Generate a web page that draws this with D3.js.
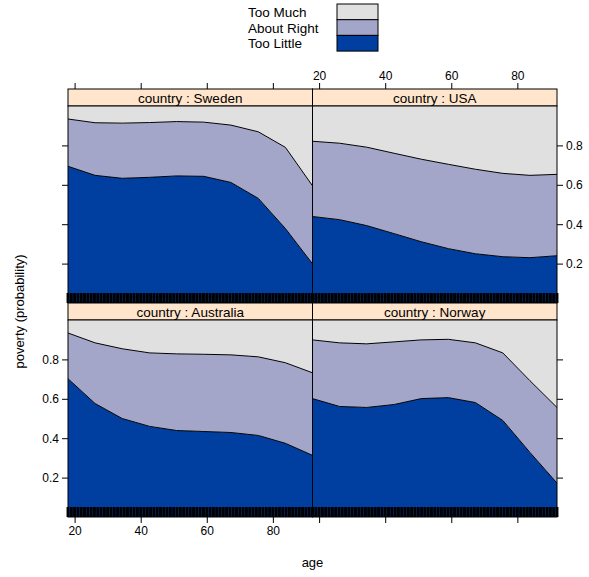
<!DOCTYPE html>
<meta charset="utf-8">
<style>
body { margin: 0; background: #fff; }
text { font-family: "Liberation Sans", Arial, sans-serif; fill: #000; }
.tick line, .domain { stroke: #000; }
</style>
<body>
<script src="https://d3js.org/d3.v7.min.js"></script>
<script>

// ---- data: fitted probabilities at the age evaluation points ----
var ages = [18, 26.2, 34.4, 42.7, 50.9, 59.1, 67.3, 75.6, 83.8, 92];
var categories = ["Too Little", "About Right", "Too Much"];

var swedenTooLittle   = [0.694, 0.648, 0.633, 0.638, 0.645, 0.643, 0.612, 0.531, 0.378, 0.199];
var swedenAboutRight  = [0.240, 0.267, 0.280, 0.278, 0.276, 0.275, 0.291, 0.338, 0.412, 0.396];
var usaTooLittle      = [0.439, 0.423, 0.393, 0.352, 0.311, 0.276, 0.250, 0.235, 0.230, 0.240];
var usaAboutRight     = [0.382, 0.388, 0.398, 0.408, 0.419, 0.428, 0.429, 0.423, 0.418, 0.413];
var australiaTooLittle  = [0.702, 0.576, 0.500, 0.460, 0.439, 0.434, 0.429, 0.414, 0.374, 0.313];
var australiaAboutRight = [0.232, 0.308, 0.354, 0.373, 0.389, 0.392, 0.394, 0.399, 0.409, 0.419];
var norwayTooLittle   = [0.601, 0.561, 0.556, 0.571, 0.601, 0.606, 0.581, 0.490, 0.328, 0.172];
var norwayAboutRight  = [0.298, 0.323, 0.323, 0.318, 0.298, 0.296, 0.303, 0.343, 0.364, 0.384];

// ages present in the data (rug)
var rugAges = [18,19,20,21,22,23,24,25,26,27,28,29,30,31,32,33,34,35,36,37,38,39,40,41,42,43,44,45,46,47,48,49,
  50,51,52,53,54,55,56,57,58,59,60,61,62,63,64,65,66,67,68,69,70,71,72,73,74,75,76,77,78,79,80,81,82,83,84,85,86,87,88,89,90,91,92];

var xTicks = [20, 40, 60, 80];
var yTicks = [0.2, 0.4, 0.6, 0.8];

var colors = {"Too Little": "#003fa0", "About Right": "#a3a6c8", "Too Much": "#e0e0e0"};

// panels: position in lattice layout (col,row)
var panels = [
  {name: "Sweden",    col: 0, row: 0, tl: swedenTooLittle,    ar: swedenAboutRight},
  {name: "USA",       col: 1, row: 0, tl: usaTooLittle,       ar: usaAboutRight},
  {name: "Australia", col: 0, row: 1, tl: australiaTooLittle, ar: australiaAboutRight},
  {name: "Norway",    col: 1, row: 1, tl: norwayTooLittle,    ar: norwayAboutRight}
];

// ---- layout ----
var W = 589, H = 577;
var plotLeft = 68, plotTop = 89, pw = 244.5, ph = 197, stripH = 17;

var svg = d3.select("body").append("svg")
    .attr("width", W)
    .attr("height", H);

var x = d3.scaleLinear().domain([18, 92]).range([0, pw]);
var y = d3.scaleLinear().domain([0, 1]).range([ph, 0]);

var stack = d3.stack().keys(categories);

var area = d3.area()
    .x(function(d) { return x(d.data.age); })
    .y0(function(d) { return y(d[0]); })
    .y1(function(d) { return y(d[1]); });

var line = d3.line()
    .x(function(d) { return x(d.data.age); })
    .y(function(d) { return y(d[1]); });

panels.forEach(function(p) {
  var px = plotLeft + p.col * pw;
  var py = plotTop + p.row * (ph + stripH);

  var rows = ages.map(function(a, i) {
    return {age: a, "Too Little": p.tl[i], "About Right": p.ar[i], "Too Much": 1 - p.tl[i] - p.ar[i]};
  });
  var series = stack(rows);

  // strip
  svg.append("rect")
      .attr("x", px).attr("y", py)
      .attr("width", pw).attr("height", stripH)
      .attr("fill", "#ffe5cc")
      .attr("stroke", "#000").attr("stroke-width", 1);
  svg.append("text")
      .attr("x", px + pw / 2).attr("y", py + stripH / 2 + 5)
      .attr("text-anchor", "middle")
      .style("font-size", "13.5px")
      .text("country : " + p.name);

  var g = svg.append("g")
      .attr("transform", "translate(" + px + "," + (py + stripH) + ")");

  g.selectAll("path.area")
    .data(series)
    .enter().append("path")
      .attr("class", "area")
      .attr("fill", function(d) { return colors[d.key]; })
      .attr("d", area);

  // boundary lines between categories
  g.selectAll("path.bound")
    .data(series.slice(0, 2))
    .enter().append("path")
      .attr("class", "bound")
      .attr("fill", "none")
      .attr("stroke", "#000")
      .attr("stroke-width", 1)
      .attr("d", line);

  // rug
  g.selectAll("line.rug")
    .data(rugAges)
    .enter().append("line")
      .attr("x1", function(d) { return x(d); })
      .attr("x2", function(d) { return x(d); })
      .attr("y1", ph - 10).attr("y2", ph)
      .attr("stroke", "#000")
      .attr("stroke-width", 2.9);

  // panel border
  g.append("rect")
      .attr("width", pw).attr("height", ph)
      .attr("fill", "none")
      .attr("stroke", "#000").attr("stroke-width", 1);

  // axes (alternating as lattice does)
  if (p.row === 0) {
    var ta = d3.axisTop(x).tickValues(xTicks).tickSize(6).tickSizeOuter(0);
    if (p.col === 0) ta.tickFormat("");
    svg.append("g").attr("transform", "translate(" + px + "," + py + ")")
        .call(ta).call(function(s) { s.select(".domain").remove(); });
  } else {
    var ba = d3.axisBottom(x).tickValues(xTicks).tickSize(6).tickSizeOuter(0);
    if (p.col === 1) ba.tickFormat("");
    g.append("g").attr("transform", "translate(0," + ph + ")")
        .call(ba).call(function(s) { s.select(".domain").remove(); });
  }
  if (p.col === 0) {
    var la = d3.axisLeft(y).tickValues(yTicks).tickSize(6).tickSizeOuter(0);
    if (p.row === 0) la.tickFormat("");
    g.append("g").call(la).call(function(s) { s.select(".domain").remove(); });
  } else {
    var ra = d3.axisRight(y).tickValues(yTicks).tickSize(6).tickSizeOuter(0);
    if (p.row === 1) ra.tickFormat("");
    g.append("g").attr("transform", "translate(" + pw + ",0)")
        .call(ra).call(function(s) { s.select(".domain").remove(); });
  }
});

svg.selectAll(".tick text")
    .style("font-size", "12px")
    .style("font-family", "'Liberation Sans', Arial, sans-serif")
    .attr("fill", "#000");

// axis titles
svg.append("text")
    .attr("x", plotLeft + pw).attr("y", 567)
    .attr("text-anchor", "middle")
    .style("font-size", "13px")
    .text("age");
svg.append("text")
    .attr("transform", "translate(24," + (plotTop + stripH + ph + stripH / 2) + ") rotate(-90)")
    .attr("text-anchor", "middle")
    .style("font-size", "13px")
    .text("poverty (probability)");

// legend
var legendOrder = categories.slice().reverse();
var lg = svg.append("g").attr("transform", "translate(337,4)");
lg.selectAll("rect")
  .data(legendOrder)
  .enter().append("rect")
    .attr("x", 0)
    .attr("y", function(d, i) { return i * 15.7; })
    .attr("width", 41).attr("height", 15.7)
    .attr("fill", function(d) { return colors[d]; })
    .attr("stroke", "#000").attr("stroke-width", 1);
lg.selectAll("text")
  .data(legendOrder)
  .enter().append("text")
    .attr("x", -89)
    .attr("y", function(d, i) { return i * 15.7 + 13; })
    .style("font-size", "13.5px")
    .text(function(d) { return d; });

</script>
</body>
